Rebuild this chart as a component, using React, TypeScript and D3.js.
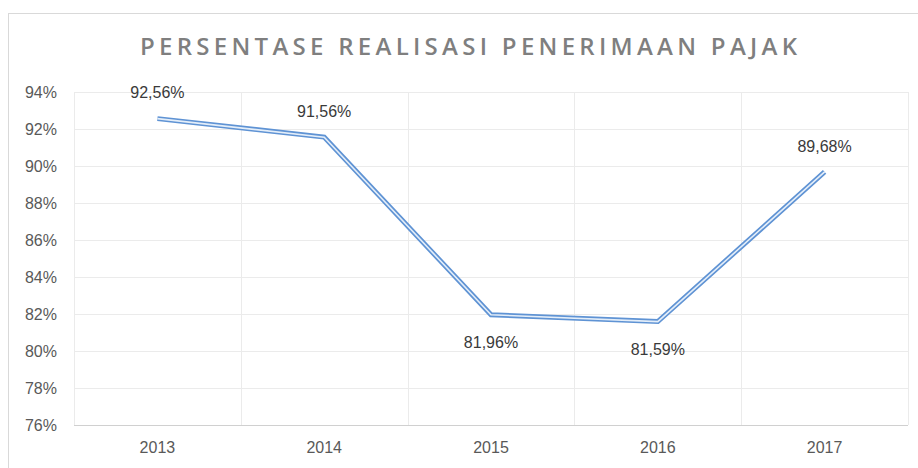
import React, { useEffect, useRef } from "react";
import * as d3 from "d3";

const years = ["2013", "2014", "2015", "2016", "2017"];
const values = [92.56, 91.56, 81.96, 81.59, 89.68];
const labels = ["92,56%", "91,56%", "81,96%", "81,59%", "89,68%"];
const labelAbove = [true, true, false, false, true];
const yTicks = [76, 78, 80, 82, 84, 86, 88, 90, 92, 94];
const title = "PERSENTASE REALISASI PENERIMAAN PAJAK";

export default function App() {
  const ref = useRef<SVGSVGElement>(null);
  useEffect(() => {
    const svg = d3.select(ref.current);
    svg.selectAll("*").remove();
    const W = 918, H = 468;
    const left = 74, right = 908, top = 92, bottom = 425;
    const font = "'Liberation Sans', Arial, sans-serif";

    svg.append("rect").attr("x", 8.5).attr("y", 13.5).attr("width", W + 10).attr("height", H + 10)
      .attr("fill", "#fff").attr("stroke", "#d9d9d9");

    const x = d3.scaleBand().domain(years).range([left, right]).padding(0);
    const y = d3.scaleLinear().domain([76, 94]).range([bottom, top]);

    svg.append("g").selectAll("line").data(yTicks.filter(t => t !== 76)).join("line")
      .attr("x1", left).attr("x2", right)
      .attr("y1", d => Math.round(y(d)) + 0.5).attr("y2", d => Math.round(y(d)) + 0.5)
      .attr("stroke", "#ebebeb").attr("stroke-width", 1);
    const bounds = years.map(yr => x(yr)!).concat([right]);
    svg.append("g").selectAll("line").data(bounds).join("line")
      .attr("x1", d => Math.round(d) + 0.5).attr("x2", d => Math.round(d) + 0.5)
      .attr("y1", top).attr("y2", bottom)
      .attr("stroke", "#ebebeb").attr("stroke-width", 1);
    svg.append("line").attr("x1", left).attr("x2", right)
      .attr("y1", bottom + 0.5).attr("y2", bottom + 0.5)
      .attr("stroke", "#d0d0d0").attr("stroke-width", 1.2);

    svg.append("g").selectAll("text").data(yTicks).join("text")
      .attr("x", 57).attr("y", d => y(d)).attr("dy", "0.35em")
      .attr("text-anchor", "end").attr("font-family", font).attr("font-size", 16)
      .attr("fill", "#595959").text(d => d + "%");

    svg.append("g").selectAll("text").data(years).join("text")
      .attr("x", d => x(d)! + x.bandwidth() / 2).attr("y", 447).attr("dy", "0.35em")
      .attr("text-anchor", "middle").attr("font-family", font).attr("font-size", 16)
      .attr("fill", "#595959").text(d => d);

    svg.append("text").attr("x", 140).attr("y", 47).attr("dy", "0.35em")
      .attr("text-anchor", "start").attr("font-family", "'Open Sans', sans-serif")
      .attr("font-weight", 600).attr("font-size", 24)
      .attr("textLength", 657).attr("lengthAdjust", "spacing")
      .attr("fill", "#7f7f7f").text(title);

    const pts = years.map((yr, i) => [x(yr)! + x.bandwidth() / 2, y(values[i])] as [number, number]);
    const line = d3.line();
    svg.append("path").attr("d", line(pts)).attr("fill", "none")
      .attr("stroke", "#5f93d4").attr("stroke-width", 5).attr("stroke-linejoin", "miter");
    svg.append("path").attr("d", line(pts)).attr("fill", "none")
      .attr("stroke", "#e4eef9").attr("stroke-width", 1.6).attr("stroke-linejoin", "miter");

    svg.append("g").selectAll("text").data(years).join("text")
      .attr("x", (d, i) => pts[i][0]).attr("y", (d, i) => labelAbove[i] ? pts[i][1] - 26 : pts[i][1] + 28)
      .attr("dy", "0.35em").attr("text-anchor", "middle").attr("font-family", font)
      .attr("font-size", 16).attr("fill", "#3a3a3a").text((d, i) => labels[i]);
  }, []);
  return (
    <svg ref={ref} width={918} height={468}
      style={{ position: "absolute", left: 0, top: 0, background: "#fff" }} />
  );
}
